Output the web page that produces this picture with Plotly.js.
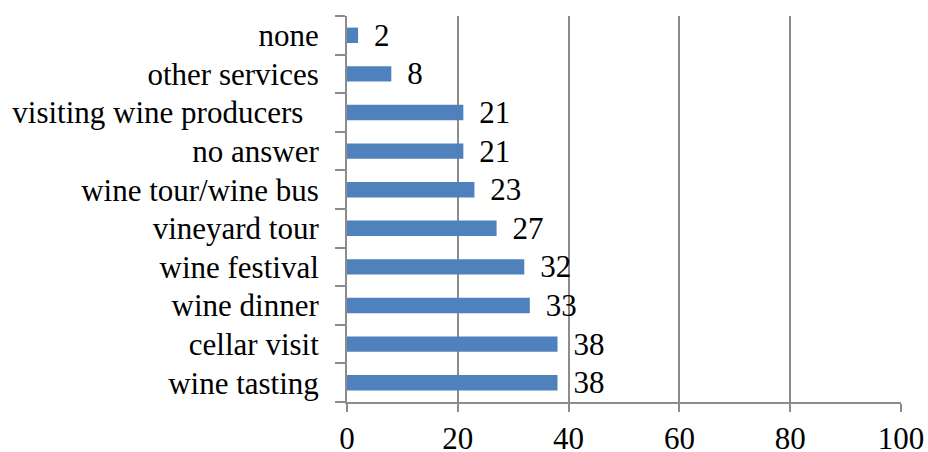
<!DOCTYPE html>
<html><head><meta charset="utf-8">
<script src="https://cdn.plot.ly/plotly-3.0.1.min.js"></script>
<style>html,body{margin:0;padding:0;background:#fff}</style>
</head><body>
<div id="chart" style="width:928px;height:452px"></div>
<script>
const categories = ["wine tasting","cellar visit","wine dinner","wine festival","vineyard tour","wine tour/wine bus","no answer","visiting wine producers\u00a0\u00a0","other services","none"];
const values = [38,38,33,32,27,23,21,21,8,2];
const xTicks = [0,20,40,60,80,100];

const font = {family: '"Liberation Serif","Times New Roman",serif', size: 31, color: '#000'};
Plotly.newPlot('chart', [{
  type: 'bar', orientation: 'h', x: values, y: categories,
  marker: {color: '#4F81BD', line: {width: 0}},
  width: 0.4,
  text: values, texttemplate: '\u00a0\u2006%{x}', textposition: 'outside',
  constraintext: 'none',
  textfont: font, cliponaxis: false, hoverinfo: 'none'
}], {
  width: 928, height: 452,
  margin: {l: 347, r: 27, t: 16, b: 50},
  paper_bgcolor: '#fff', plot_bgcolor: '#fff',
  font: font, showlegend: false, bargap: 0.6,
  xaxis: {range: [0,100], tickvals: xTicks, ticktext: xTicks.map(String),
    showgrid: true, gridcolor: '#8c8c8c', gridwidth: 2, zeroline: false,
    showline: true, linecolor: '#8c8c8c', linewidth: 2,
    ticks: 'outside', ticklen: 8, tickwidth: 2, tickcolor: '#8c8c8c',
    tickfont: font, fixedrange: true},
  yaxis: {type: 'category', categoryorder: 'array', categoryarray: categories,
    showgrid: false, zeroline: false, showline: true, linecolor: '#8c8c8c', linewidth: 2,
    ticks: 'outside', ticklen: 10, tickwidth: 2, tickcolor: '#8c8c8c', tickson: 'boundaries',
    ticklabelstandoff: 20,
    tickfont: font, fixedrange: true}
}, {displayModeBar: false, staticPlot: true});
</script>
</body></html>
